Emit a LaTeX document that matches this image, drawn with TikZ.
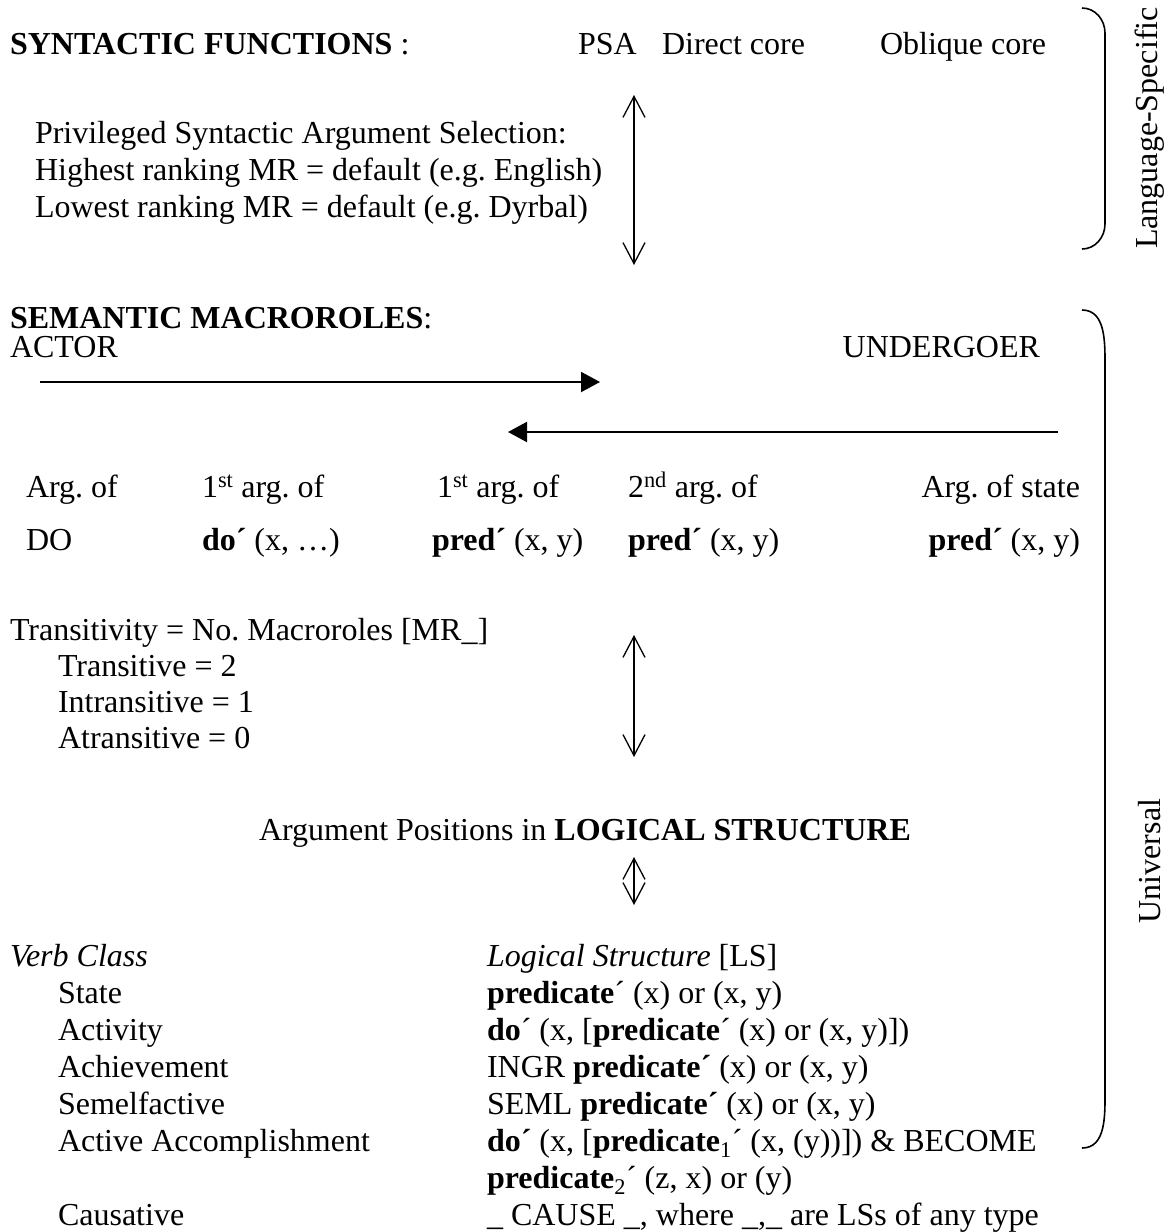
\documentclass[tikz,border=0pt]{standalone}
\usepackage{fontspec}
\setmainfont{Liberation Serif}
\usetikzlibrary{arrows.meta}
\frenchspacing
\begin{document}
\begin{tikzpicture}[x=1pt,y=-1pt,
  txt/.style={inner sep=0pt, outer sep=0pt, anchor=base west, font=\fontsize{32}{37}\selectfont},
  rtxt/.style={txt, anchor=base east},
  ctxt/.style={txt, anchor=base},
  vtxt/.style={inner sep=0pt, outer sep=0pt, rotate=90, font=\fontsize{32}{37}\selectfont},
  dbl/.style={line width=1.3pt, {Straight Barb[length=21pt,width=22pt]}-{Straight Barb[length=21pt,width=22pt]}},
  harr/.style={line width=2pt, -{Triangle[length=19pt,width=20pt]}},
  brace/.style={line width=1.6pt}
]
\useasboundingbox (0,0) rectangle (1173,1232);

% --- Syntactic functions
\node[txt] (synf) at (10,54) {\textbf{SYNTACTIC FUNCTIONS} :};
\node[txt] (psa) at (578,54) {PSA};
\node[txt] (dcore) at (662,54) {Direct core};
\node[txt] (ocore) at (880,54) {Oblique core};

\node[txt] (psas1) at (35,143) {Privileged Syntactic Argument Selection:};
\node[txt] (psas2) at (35,180) {Highest ranking MR = default (e.g. English)};
\node[txt] (psas3) at (35,217) {Lowest ranking MR = default (e.g. Dyrbal)};

\coordinate (a1t) at (634,95);
\coordinate (a1b) at (634,265);
\draw[dbl] (a1t) -- (a1b);

% --- Semantic macroroles
\node[txt] (smr) at (10,328) {\textbf{SEMANTIC MACROROLES}:};
\node[txt] (actor) at (10,357) {ACTOR};
\node[rtxt] (und) at (1040,357) {UNDERGOER};

\coordinate (r1s) at (40,382);
\coordinate (r1e) at (600,382);
\draw[harr] (r1s) -- (r1e);
\coordinate (l1s) at (1058,432);
\coordinate (l1e) at (508,432);
\draw[harr] (l1s) -- (l1e);

\node[txt] (h1) at (26,497) {Arg. of};
\node[txt] (h2) at (202,497) {1\textsuperscript{st} arg. of};
\node[txt] (h3) at (437,497) {1\textsuperscript{st} arg. of};
\node[txt] (h4) at (628,497) {2\textsuperscript{nd} arg. of};
\node[rtxt] (h5) at (1080,497) {Arg. of state};

\node[txt] (d1) at (26,550) {DO};
\node[txt] (d2) at (202,550) {\textbf{do´} (x, …)};
\node[txt] (d3) at (432,550) {\textbf{pred´} (x, y)};
\node[txt] (d4) at (628,550) {\textbf{pred´} (x, y)};
\node[rtxt] (d5) at (1080,550) {\textbf{pred´} (x, y)};

% --- Transitivity
\node[txt] (tr0) at (10,640) {Transitivity = No. Macroroles [MR\_]};
\node[txt] (tr1) at (58,676) {Transitive = 2};
\node[txt] (tr2) at (58,712) {Intransitive = 1};
\node[txt] (tr3) at (58,748) {Atransitive = 0};

\coordinate (a2t) at (634,635);
\coordinate (a2b) at (634,757);
\draw[dbl] (a2t) -- (a2b);

\node[ctxt] (aplS) at (585,840) {Argument Positions in \textbf{LOGICAL STRUCTURE}};

\coordinate (a3t) at (634,857);
\coordinate (a3b) at (634,905);
\draw[dbl] (a3t) -- (a3b);

% --- Verb classes
\node[txt] (vc) at (10,966) {\textit{Verb Class}};
\node[txt] (vc1) at (58,1003) {State};
\node[txt] (vc2) at (58,1040) {Activity};
\node[txt] (vc3) at (58,1077) {Achievement};
\node[txt] (vc4) at (58,1114) {Semelfactive};
\node[txt] (vc5) at (58,1151) {Active Accomplishment};
\node[txt] (vc6) at (58,1225) {Causative};

\node[txt] (ls) at (487,966) {\textit{Logical Structure} [LS]};
\node[txt] (ls1) at (487,1003) {\textbf{predicate}´ (x) or (x, y)};
\node[txt] (ls2) at (487,1040) {\textbf{do}´ (x, [\textbf{predicate}´ (x) or (x, y)])};
\node[txt] (ls3) at (487,1077) {INGR \textbf{predicate´} (x) or (x, y)};
\node[txt] (ls4) at (487,1114) {SEML \textbf{predicate´} (x) or (x, y)};
\node[txt] (ls5) at (487,1151) {\textbf{do´} (x, [\textbf{predicate}\textsubscript{1}´ (x, (y))]) \& BECOME};
\node[txt] (ls5b) at (487,1188) {\textbf{predicate}\textsubscript{2}´ (z, x) or (y)};
\node[txt] (ls6) at (487,1225) {\_ CAUSE \_, where \_,\_ are LSs of any type};

% --- brackets
\draw[brace] (1082,8) to[out=0,in=90] (1105,33) -- (1105,224) to[out=-90,in=0] (1082,249);
\draw[brace] (1082,310) to[out=0,in=90] (1105,367) -- (1105,1090) to[out=-90,in=0] (1082,1148);

\node[vtxt] (lang) at (1150,128) {Language-Specific};
\node[vtxt] (univ) at (1150,861) {Universal};
\end{tikzpicture}
\end{document}
